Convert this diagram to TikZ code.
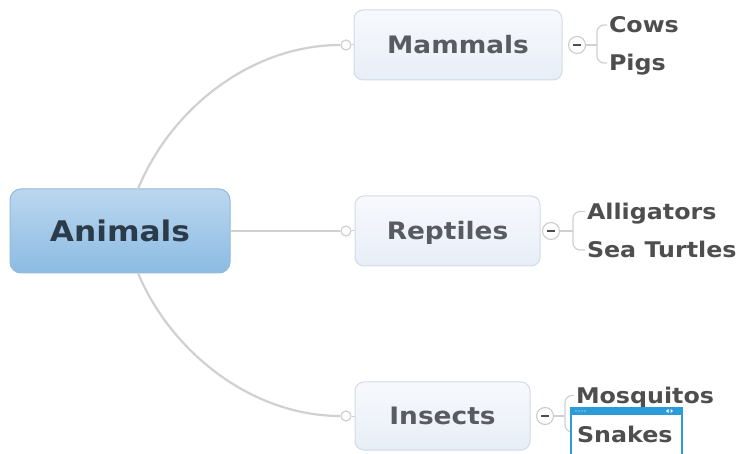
\documentclass[tikz,border=0pt]{standalone}
\usepackage{fontspec}
\newfontfamily\vfont[FakeStretch=1.1]{DejaVu Sans}
\definecolor{conn}{HTML}{D0D0D0}
\definecolor{subborder}{HTML}{D3DAE6}
\definecolor{subtop}{HTML}{F7F9FD}
\definecolor{subbot}{HTML}{E8EEF7}
\definecolor{subtext}{HTML}{585C62}
\definecolor{childtext}{HTML}{4E4E4E}
\definecolor{animtop}{HTML}{BCD7EF}
\definecolor{animbot}{HTML}{8BBBE3}
\definecolor{animborder}{HTML}{93B8DC}
\definecolor{animtext}{HTML}{2C3B4A}
\definecolor{selblue}{HTML}{2B9CD8}
\definecolor{minusgrey}{HTML}{C8C8C8}
\begin{document}
\begin{tikzpicture}[x=1pt,y=-1pt,
  connector/.style={draw=conn, line width=2.2pt},
  central/.style={draw=animborder, line width=1pt, rounded corners=11pt,
    top color=animtop, bottom color=animbot, text=animtext, inner sep=0pt,
    font=\vfont\bfseries\fontsize{28.4}{32}\selectfont, text height=20.7pt, text depth=0pt},
  topicbox/.style={draw=subborder, line width=1pt, rounded corners=9pt,
    top color=subtop, bottom color=subbot, text=subtext, inner sep=0pt,
    font=\vfont\bfseries\fontsize{24}{28}\selectfont, text height=17.5pt, text depth=0pt},
  childtext/.style={anchor=west, inner sep=0pt, outer xsep=2pt, text=childtext,
    font=\vfont\bfseries\fontsize{21.6}{26}\selectfont, text height=15.7pt, text depth=0pt},
  knob/.style={circle, draw=conn, fill=white, line width=1.2pt, minimum size=10pt, inner sep=0pt},
  minusknob/.style={circle, draw=minusgrey, fill=white, line width=1pt, minimum size=17pt, inner sep=0pt,
    path picture={\draw[line width=2.6pt, draw=childtext]
      ([xshift=-4pt]path picture bounding box.center) -- ([xshift=4pt]path picture bounding box.center);}},
  bracket/.style={draw=conn, line width=1.2pt, rounded corners=7pt}
]
\useasboundingbox (0,0) rectangle (742,454);

% main topic
\node[central, minimum width=220pt, minimum height=84pt] (animals) at (120,231) {Animals};

% subtopics
\node[topicbox, minimum width=208pt, minimum height=70pt] (mammals) at (458,45) {Mammals};
\node[topicbox, minimum width=185pt, minimum height=70pt] (reptiles) at (447.5,231) {Reptiles};
\node[topicbox, minimum width=175pt, minimum height=68pt] (insects) at (442.5,416) {Insects};

% knobs
\node[knob] (k1) at (346,45) {};
\node[knob] (k2) at (346,231) {};
\node[knob] (k3) at (346,416) {};

% connectors from central topic
\coordinate (a1) at (138,189);
\coordinate (a3) at (138,273);
\draw[connector] (a1) .. controls (170,110) and (250,45) .. (k1.west);
\draw[connector] (animals.east) -- (k2.west);
\draw[connector] (a3) .. controls (170,350) and (250,416) .. (k3.west);
\draw[connector, line width=1pt] (k1.east) -- (mammals.west);
\draw[connector, line width=1pt] (k2.east) -- (reptiles.west);
\draw[connector, line width=1pt] (k3.east) -- (insects.west);

% minus knobs
\node[minusknob] (m1) at (577,45) {};
\node[minusknob] (m2) at (551,231) {};
\node[minusknob] (m3) at (545,416) {};

% children
\node[childtext] (cows) at (607,25) {Cows};
\node[childtext] (pigs) at (607,63) {Pigs};
\node[childtext] (alligators) at (585,211.5) {Alligators};
\node[childtext] (seaturtles) at (585,250) {Sea Turtles};
\node[childtext] (mosquitos) at (574,395.5) {Mosquitos};

% brackets
\coordinate (b1) at (597,45);
\coordinate (b2) at (573,231);
\coordinate (b3) at (565,416);
\coordinate (s3) at (573,432);
\draw[bracket] (m1.east) -- (b1);
\draw[bracket] (cows.west) -| (b1) |- (pigs.west);
\draw[bracket] (m2.east) -- (b2);
\draw[bracket] (alligators.west) -| (b2) |- (seaturtles.west);
\draw[bracket] (m3.east) -- (b3);
\draw[bracket] (mosquitos.west) -| (b3) |- (s3);

% selected child (Snakes) in an edit box
\node[draw=selblue, line width=2pt, fill=white, minimum width=111pt, minimum height=50pt,
  inner sep=0pt] (snakebox) at (626.5,433) {};
\fill[selblue] (snakebox.north west) rectangle ([yshift=-8pt]snakebox.north east);
\foreach \dx in {6,9,12,15}
  \fill[white] ([xshift=\dx pt, yshift=-4pt]snakebox.north west) circle (0.7pt);
\fill[white] ([xshift=-17pt, yshift=-4pt]snakebox.north east) -- ++(2.5,-2) -- ++(0,4) -- cycle;
\fill[white] ([xshift=-10pt, yshift=-4pt]snakebox.north east) -- ++(-2.5,-2) -- ++(0,4) -- cycle;
\node[childtext] (snakes) at (575,435) {Snakes};
\end{tikzpicture}
\end{document}
